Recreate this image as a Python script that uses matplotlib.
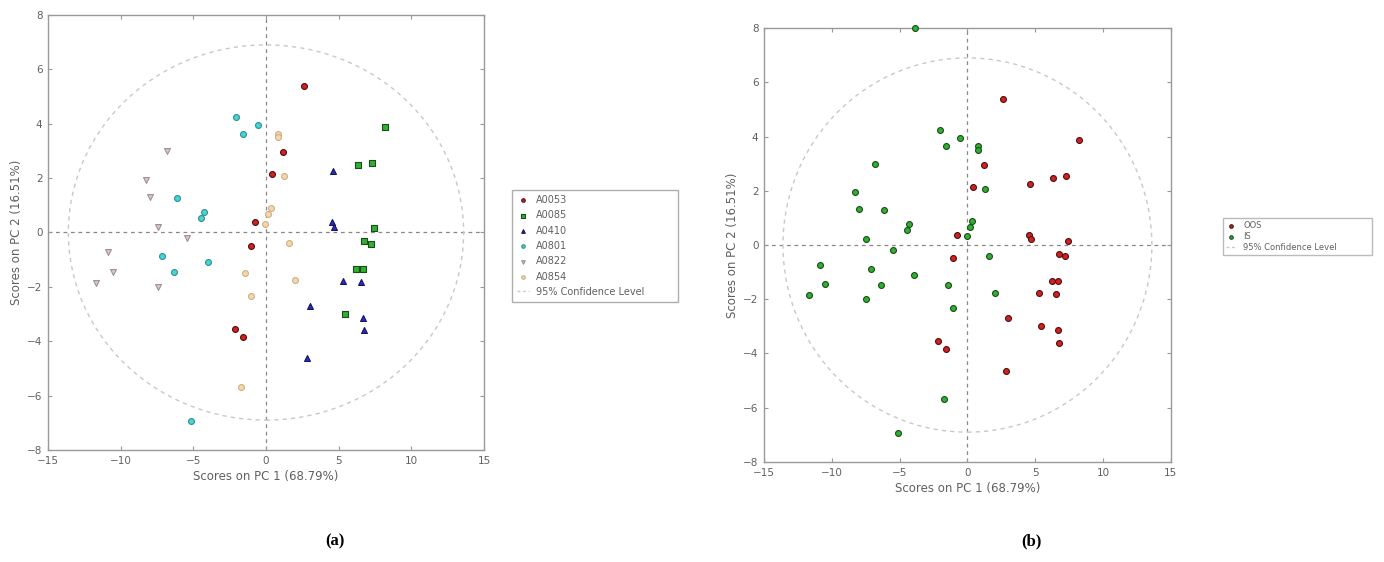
import numpy as np
import matplotlib.pyplot as plt
from matplotlib.patches import Ellipse

# PCA scores (PC1, PC2)
a0053_x = [2.6, 1.2, 0.4, -0.75, -1.05, -2.15, -1.6]
a0053_y = [5.4, 2.95, 2.15, 0.38, -0.48, -3.55, -3.85]

a0085_x = [8.2, 6.3, 7.3, 7.45, 6.75, 7.2, 6.2, 6.65, 5.45]
a0085_y = [3.88, 2.49, 2.55, 0.15, -0.33, -0.42, -1.33, -1.33, -3.0]

a0410_x = [4.6, 4.55, 4.7, 5.3, 6.55, 3.0, 6.7, 6.75, 2.85]
a0410_y = [2.25, 0.37, 0.22, -1.78, -1.82, -2.7, -3.15, -3.6, -4.63]

a0801_x = [-2.04, -0.54, -1.57, -6.15, -4.3, -4.48, -7.13, -3.96, -6.34, -5.14]
a0801_y = [4.24, 3.95, 3.64, 1.28, 0.76, 0.55, -0.88, -1.1, -1.46, -6.95]

a0822_x = [-6.84, -8.28, -8.0, -7.45, -5.45, -10.9, -10.5, -11.68, -7.45]
a0822_y = [2.98, 1.94, 1.32, 0.22, -0.2, -0.72, -1.44, -1.85, -1.99]

a0854_x = [0.81, 0.8, 1.27, 0.37, 0.17, -0.05, 1.6, -1.42, 2.0, -1.06, -1.7]
a0854_y = [3.64, 3.52, 2.06, 0.9, 0.67, 0.33, -0.4, -1.48, -1.76, -2.33, -5.68]

# one extra IS point sitting on the top edge of panel (b)
extra_x = [-3.9]
extra_y = [8.0]

pc1_label = 'Scores on PC 1 (68.79%)'
pc2_label = 'Scores on PC 2 (16.51%)'
ci_rx, ci_ry = 13.6, 6.9

grey = '#606060'


def style_axes(ax):
    ax.set_xlim(-15, 15)
    ax.set_ylim(-8, 8)
    ax.set_xticks(np.arange(-15, 16, 5))
    ax.set_yticks(np.arange(-8, 9, 2))
    ax.tick_params(direction='in', top=True, right=True, length=3,
                   labelsize=7.5, colors='#999999', labelcolor=grey, pad=4)
    for s in ax.spines.values():
        s.set_color('#999999')
        s.set_linewidth(1.0)
    ax.axhline(0, color='#888888', ls=(0, (3, 3)), lw=0.9, zorder=1)
    ax.axvline(0, color='#888888', ls=(0, (3, 3)), lw=0.9, zorder=1)
    ax.set_xlabel(pc1_label, fontsize=8.5, color=grey, labelpad=3)
    ax.set_ylabel(pc2_label, fontsize=8.5, color=grey, labelpad=3)


def ci_ellipse(ax):
    e = Ellipse((0, 0), 2 * ci_rx, 2 * ci_ry, fill=False, ec='#c8c8c8',
                ls=(0, (3, 3)), lw=1.0, zorder=1)
    ax.add_patch(e)
    ax.plot([], [], ls=(0, (2, 2)), color='#c8c8c8', lw=1.0,
            label='95% Confidence Level')


fig = plt.figure(figsize=(13.84, 5.62), dpi=100)

# ---- panel (a)
ax1 = fig.add_axes([0.0347, 0.1993, 0.315, 0.774])
style_axes(ax1)
groups = [
    (a0053_x, a0053_y, 'A0053', '#d62020', '#4a1010', 'o'),
    (a0085_x, a0085_y, 'A0085', '#30b030', '#1c4a1c', 's'),
    (a0410_x, a0410_y, 'A0410', '#2a2ad0', '#15155a', '^'),
    (a0801_x, a0801_y, 'A0801', '#40d8d8', '#3a8a8a', 'o'),
    (a0822_x, a0822_y, 'A0822', '#d8c8c8', '#a09090', 'v'),
    (a0854_x, a0854_y, 'A0854', '#f8d8a0', '#c8b090', 'o'),
]
for gx, gy, name, fc, ec, m in groups:
    ax1.scatter(gx, gy, s=18, marker=m, c=fc, edgecolors=ec,
                linewidths=0.8, label=name, zorder=3)
ci_ellipse(ax1)
leg1 = ax1.legend(loc='upper left', bbox_to_anchor=(0.370, 0.445, 0.12, 0.217),
                  bbox_transform=fig.transFigure, mode='expand', fontsize=7,
                  frameon=True, fancybox=False, edgecolor='#999999',
                  handlelength=1.2, handletextpad=0.8, labelspacing=0.55,
                  borderaxespad=0, borderpad=0.5, markerscale=0.6)
for t in leg1.get_texts():
    t.set_color(grey)

# ---- panel (b)
ax2 = fig.add_axes([0.552, 0.178, 0.294, 0.772])
style_axes(ax2)
oos_x = a0053_x + a0085_x + a0410_x
oos_y = a0053_y + a0085_y + a0410_y
is_x = a0801_x + a0822_x + a0854_x
is_y = a0801_y + a0822_y + a0854_y
ax2.scatter(oos_x, oos_y, s=18, marker='o', c='#d62020', edgecolors='#4a1010',
            linewidths=0.8, label='OOS', zorder=3)
ax2.scatter(is_x, is_y, s=18, marker='o', c='#30b030', edgecolors='#1c4a1c',
            linewidths=0.8, label='IS', zorder=3)
ax2.scatter(extra_x, extra_y, s=18, marker='o', c='#30b030', edgecolors='#1c4a1c',
            linewidths=0.8, zorder=3, clip_on=False)
ci_ellipse(ax2)
leg2 = ax2.legend(loc='upper left', bbox_to_anchor=(0.8837, 0.534, 0.1077, 0.078),
                  bbox_transform=fig.transFigure, mode='expand', fontsize=6,
                  frameon=True, fancybox=False, edgecolor='#aaaaaa',
                  handlelength=1.2, handletextpad=0.8, labelspacing=0.2,
                  borderaxespad=0, borderpad=0.4, markerscale=0.6)
for t in leg2.get_texts():
    t.set_color(grey)

fig.text(335 / 1384, 1 - 541 / 562, '(a)', ha='center', va='center',
         fontsize=12, fontweight='bold', family='Liberation Serif')
fig.text(1031 / 1384, 1 - 541 / 562, '(b)', ha='center', va='center',
         fontsize=12, fontweight='bold', family='Liberation Serif')

fig.savefig('out.png', dpi=100, facecolor='white')
